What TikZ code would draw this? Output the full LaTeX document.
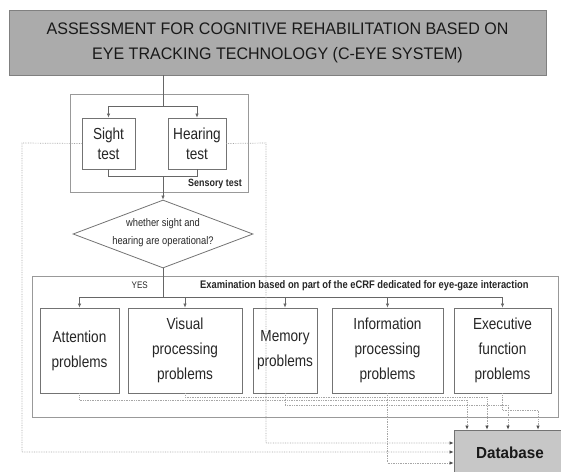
\documentclass[tikz,border=0pt]{standalone}
\usepackage{fontspec}
\setmainfont[FakeStretch=0.85]{Liberation Sans}
\newfontfamily\titlefont[FakeStretch=0.96]{Liberation Sans}
\newfontfamily\dbfont[FakeStretch=0.95]{Liberation Sans}
\usetikzlibrary{arrows.meta,shapes.geometric}
\tikzset{
  box/.style={draw=black!55, line width=0.8pt, fill=white, align=center, inner sep=0pt,
    font=\fontsize{16}{25}\selectfont, text=black!85},
  smallbox/.style={box, font=\fontsize{16}{20}\selectfont},
  flow/.style={draw=black!60, line width=0.7pt},
  arr/.style={flow, -{Latex[length=4pt,width=3.5pt]}},
  dots/.style={draw=black!35, line width=0.7pt, densely dotted},
  darr/.style={dots, -{Latex[length=4pt,width=3.5pt,black!70]}},
  group/.style={draw=black!40, line width=0.8pt},
  lbl/.style={font=\bfseries\fontsize{11}{12}\selectfont, text=black!85, inner sep=0pt},
}
\begin{document}
\begin{tikzpicture}[x=1pt,y=-1pt]
\useasboundingbox (0,0) rectangle (561,471);
\clip (0,0) rectangle (561,471);
% title
\node[draw=black!50, line width=0.8pt, fill=black!33, minimum width=537pt, minimum height=65pt,
  inner sep=0pt, align=center, font=\titlefont\fontsize{16.7}{25}\selectfont, text=black!90]
  (title) at (277.5,42.5) {ASSESSMENT FOR COGNITIVE REHABILITATION BASED ON\\EYE TRACKING TECHNOLOGY (C-EYE SYSTEM)};
% sensory group
\draw[group] (70,94) rectangle (248,192);
\node[lbl, font=\bfseries\fontsize{10.5}{12}\selectfont, anchor=east] (senslbl) at (242,184) {Sensory test};
% sensory tests
\node[smallbox, minimum width=53pt, minimum height=51pt] (sight) at (108.5,143.5) {Sight\\test};
\node[smallbox, minimum width=58pt, minimum height=51pt] (hear) at (197,143.5) {Hearing\\test};
\coordinate (split) at (163,106);
\coordinate (join) at (163,176);
\draw[flow] (title.south -| split) -- (split);
\draw[arr] (split) -| (sight.north);
\draw[arr] (split) -| (hear.north);
\draw[flow] (sight.south) |- (join);
\draw[flow] (hear.south) |- (join);
% examination group
\draw[group] (32,276) rectangle (558,417);
% diamond
\node[diamond, draw=black!55, line width=0.8pt, minimum width=180pt, minimum height=68pt,
  inner sep=0pt, aspect=2.65] (dia) at (163,234) {};
\node[font=\fontsize{11}{18}\selectfont, align=center, text=black!85, inner sep=0pt] (diatext) at (163,233)
  {whether sight and\\hearing are operational?};
\draw[arr] (join) -- (dia.north);
% problems
\node[box, minimum width=79pt, minimum height=85pt] (att) at (79.5,350.5) {Attention\\problems};
\node[box, minimum width=114pt, minimum height=85pt] (vis) at (185,350.5) {Visual\\processing\\problems};
\node[box, minimum width=64pt, minimum height=85pt] (mem) at (285,350.5) {Memory\\problems};
\node[box, minimum width=111pt, minimum height=85pt] (inf) at (387.5,350.5) {Information\\processing\\problems};
\node[box, minimum width=97pt, minimum height=85pt] (exe) at (502.5,350.5) {Executive\\function\\problems};
\coordinate (bus) at (163,297);
\draw[flow] (dia.south) -- (bus);
\draw[flow] (att.north |- bus) -- (exe.north |- bus);
\foreach \n in {att,vis,mem,inf,exe} \draw[arr] (\n.north |- bus) -- (\n.north);
\node[font=\fontsize{9.5}{12}\selectfont, text=black!85, inner sep=0pt, anchor=east] (yes) at (148,285) {YES};
\node[lbl, anchor=west] (exam) at (200,286) {Examination based on part of the eCRF dedicated for eye-gaze interaction};
% database
\node[draw=black!55, line width=0.8pt, fill=black!22, minimum width=112pt, minimum height=46pt,
  inner sep=0pt, font=\dbfont\bfseries\fontsize{16}{18}\selectfont, text=black!90] (db) at (510,453) {Database};
% data flows
\draw[darr] (sight.west) -- (22,143) -- (22,452) -- (db.west |- 0,452);
\draw[darr] (hear.east) -- (266,143) -- (266,443) -- (db.west |- 0,443);
\draw[darr] (inf.south) -- (387.5,463) -- (db.west |- 0,463);
\draw[darr] (att.south) -- (79.5,400) -- (467,400) -- (db.north -| 467,0);
\draw[darr] (vis.south) -- (185,397) -- (487,397) -- (db.north -| 487,0);
\draw[darr] (mem.south) -- (285,405) -- (508,405) -- (db.north -| 508,0);
\draw[darr] (exe.south) -- (502.5,410) -- (538,410) -- (db.north -| 538,0);
\end{tikzpicture}
\end{document}
